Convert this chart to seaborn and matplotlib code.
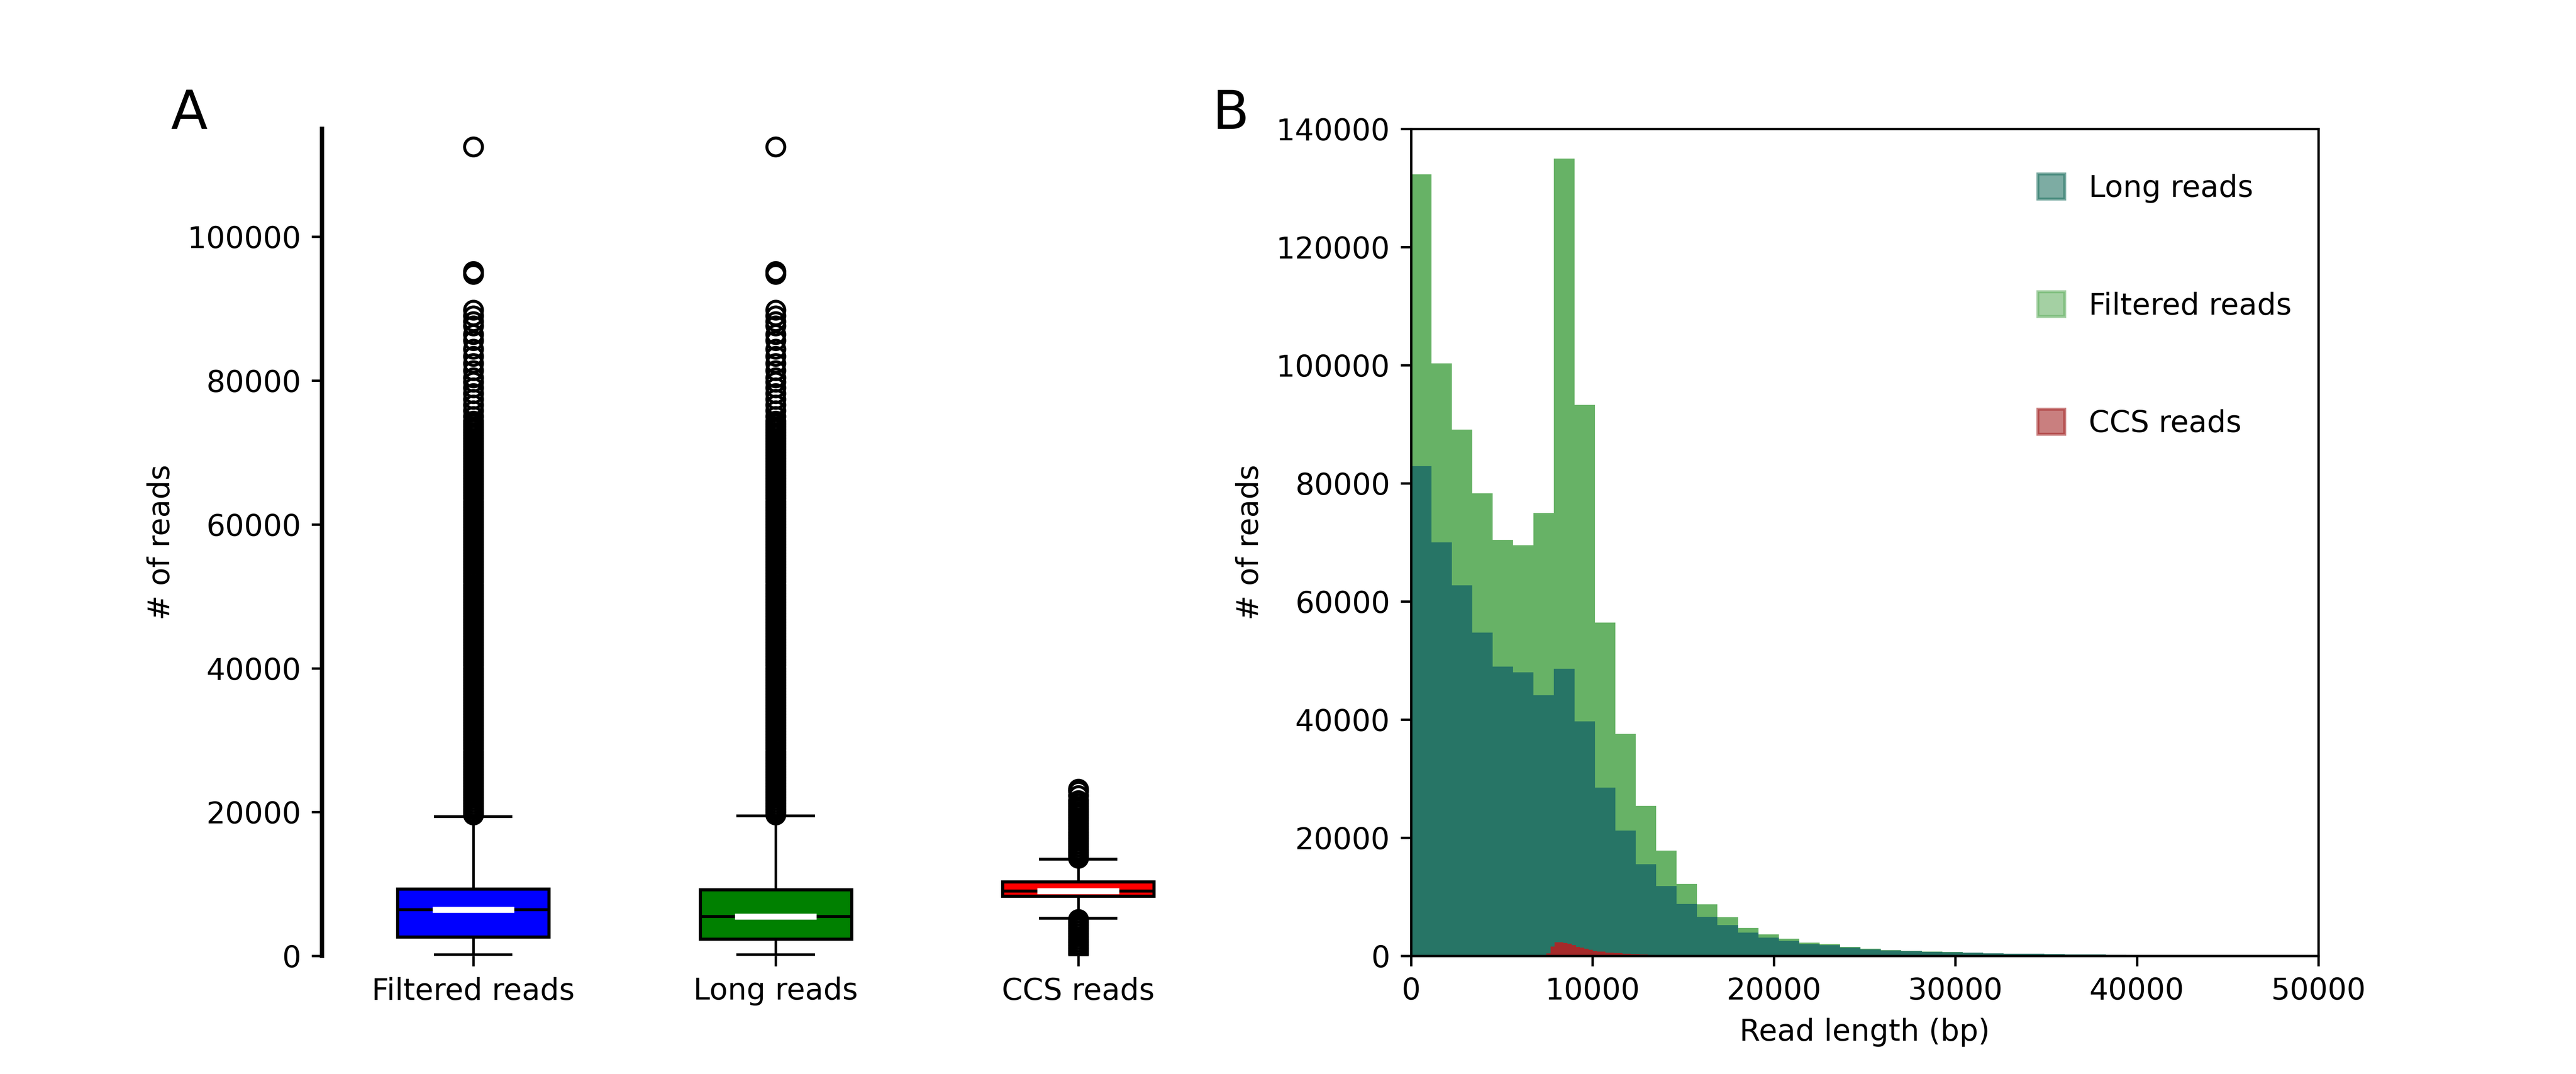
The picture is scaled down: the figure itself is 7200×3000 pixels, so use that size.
import numpy as np
import pandas as pd
import matplotlib
matplotlib.use("Agg")
import matplotlib.pyplot as plt
from matplotlib.patches import Patch
import seaborn as sns

# ---------------- data ----------------
# Panel A: box-plot statistics
box_labels = ["Filtered reads", "Long reads", "CCS reads"]
box_colors = ["#0000ff", "#008000", "#ff0000"]
box_whislo = [150, 150, 5240]
box_q1 = [2630, 2340, 8290]
box_median = [6430, 5480, 9020]
box_q3 = [9320, 9190, 10330]
box_whishi = [19360, 19460, 13420]

filtered_fliers = [
    19600, 20000, 20400, 20800, 21200, 21600, 22000, 22400, 22800, 23200,
    23600, 24000, 24400, 24800, 25200, 25600, 26000, 26400, 26800, 27200,
    27600, 28000, 28400, 28800, 29200, 29600, 30000, 30400, 30800, 31200,
    31600, 32000, 32400, 32800, 33200, 33600, 34000, 34400, 34800, 35200,
    35600, 36000, 36400, 36800, 37200, 37600, 38000, 38400, 38800, 39200,
    39600, 40000, 40400, 40800, 41200, 41600, 42000, 42400, 42800, 43200,
    43600, 44000, 44400, 44800, 45200, 45600, 46000, 46400, 46800, 47200,
    47600, 48000, 48400, 48800, 49200, 49600, 50000, 50400, 50800, 51200,
    51600, 52000, 52400, 52800, 53200, 53600, 54000, 54400, 54800, 55200,
    55600, 56000, 56400, 56800, 57200, 57600, 58000, 58400, 58800, 59200,
    59600, 60000, 60400, 60800, 61200, 61600, 62000, 62400, 62800, 63200,
    63600, 64000, 64400, 64800, 65200, 65600, 66000, 66400, 66800, 67200,
    67600, 68000, 68400, 68800, 69200, 69600, 70000, 70400, 70800, 71200,
    71600, 72000, 72400, 72800, 73200, 73600, 74000, 74400,
    75000, 75800, 76600, 77400, 78200, 79000, 79800, 80400, 81400, 82400,
    83400, 84400, 85600, 86400, 87600, 88200, 89000, 89800,
    94800, 95200, 112500,
]
long_fliers = list(filtered_fliers)
ccs_fliers = [
    300, 700, 1100, 1500, 1900, 2300, 2700, 3100, 3500, 3900, 4300, 4700, 5100,
    13600, 14000, 14400, 14800, 15200, 15600, 16000, 16400, 16800, 17200,
    17600, 18000, 18400, 18800, 19200, 19600, 20000, 20400, 20800, 21200,
    21600, 22300, 22900, 23200,
]
box_fliers = [filtered_fliers, long_fliers, ccs_fliers]

# Panel B: histogram counts
hist_bin_width = 1126
filtered_counts = [
    132300, 100300, 89100, 78300, 70400, 69500, 75000, 135000, 93300, 56400,
    37600, 25400, 17800, 12200, 8730, 6545, 4730, 3640, 2910, 2240,
    2000, 1515, 1210, 970, 850, 730, 640, 550, 430, 370,
    365, 300, 245, 240, 170, 150, 130, 110, 100, 80,
    60, 50, 40, 30,
]
long_counts = [
    82900, 70000, 62700, 54700, 49000, 48000, 44100, 48600, 39700, 28500,
    21200, 15500, 11800, 8790, 6610, 5210, 3940, 3090, 2545, 2000,
    1820, 1390, 1090, 910, 780, 690, 630, 545, 425, 365,
    365, 300, 240, 240, 165, 145, 125, 105, 95, 75,
    55, 45, 35, 25,
]
ccs_bin_width = 233
ccs_first_bin = 32
ccs_counts = [
    400, 1580, 2320, 2320, 2200, 2060, 1820, 1500, 1390, 1210,
    1010, 850, 750, 750, 545, 545, 485, 485, 364, 364,
    283, 283, 240, 240, 180, 160, 140, 120, 100, 90,
    80, 70, 60, 50, 40, 30,
]
hist_labels = ["Long reads", "Filtered reads", "CCS reads"]
col_long = "#277566"
col_filtered = "#67b266"
col_ccs = "#a52a2a"

# ---------------- figure ----------------
plt.rcdefaults()
plt.rcParams["font.family"] = ["DejaVu Sans"]
fig, (ax1, ax2) = plt.subplots(1, 2, figsize=(12, 5), dpi=600)

# ----- Panel A -----
stats = []
for i, lab in enumerate(box_labels):
    stats.append(dict(label=lab, whislo=box_whislo[i], q1=box_q1[i],
                      med=box_median[i], q3=box_q3[i], whishi=box_whishi[i],
                      fliers=box_fliers[i]))
positions = [0, 1, 2]
bp = ax1.bxp(stats, positions=positions, widths=0.5, patch_artist=True,
             showfliers=True,
             boxprops=dict(edgecolor="black", linewidth=1.05),
             medianprops=dict(color="black", linewidth=1.0),
             whiskerprops=dict(color="black", linewidth=0.85),
             capprops=dict(color="black", linewidth=0.95),
             flierprops=dict(marker="o", markerfacecolor="none",
                             markeredgecolor="black", markersize=6,
                             markeredgewidth=1.0))
for patch, c in zip(bp["boxes"], box_colors):
    patch.set_facecolor(c)
ax1.hlines(box_median, [p - 0.135 for p in positions],
           [p + 0.135 for p in positions], colors="white", linewidth=2.0,
           zorder=5)
ax1.set_xlim(-0.5, 2.5)
ax1.set_ylim(0, 115000)
ax1.set_yticks([0, 20000, 40000, 60000, 80000, 100000])
ax1.set_xticks(positions)
ax1.set_xticklabels(box_labels)
for s in ["top", "right", "bottom"]:
    ax1.spines[s].set_visible(False)
ax1.spines["left"].set_linewidth(1.45)
ax1.set_ylabel("# of reads")

# ----- Panel B -----
edges_main = [k * hist_bin_width for k in range(len(filtered_counts) + 1)]
df_main = pd.DataFrame({
    "length": [e + hist_bin_width / 2 for e in edges_main[:-1]],
    "filtered": filtered_counts,
    "long": long_counts,
})
edges_ccs = [(k + ccs_first_bin) * ccs_bin_width for k in range(len(ccs_counts) + 1)]
df_ccs = pd.DataFrame({
    "length": [e + ccs_bin_width / 2 for e in edges_ccs[:-1]],
    "ccs": ccs_counts,
})

sns.histplot(data=df_main, x="length", weights="filtered", bins=edges_main,
             element="step", fill=True, color=col_filtered, alpha=1,
             linewidth=0, ax=ax2)
sns.histplot(data=df_main, x="length", weights="long", bins=edges_main,
             element="step", fill=True, color=col_long, alpha=1,
             linewidth=0, ax=ax2)
sns.histplot(data=df_ccs, x="length", weights="ccs", bins=edges_ccs,
             element="step", fill=True, color=col_ccs, alpha=1,
             linewidth=0, ax=ax2)
ax2.set_xlim(0, 50000)
ax2.set_ylim(0, 140000)
ax2.set_xlabel("Read length (bp)")
ax2.set_ylabel("# of reads")

handles = [Patch(facecolor=c, edgecolor=c, alpha=0.6, linewidth=1.0)
           for c in [col_long, col_filtered, col_ccs]]
ax2.legend(handles, hist_labels, loc="upper right", frameon=False,
           bbox_to_anchor=(1.0, 0.978),
           handlelength=0.9, handleheight=0.9, labelspacing=2.97,
           handletextpad=0.8)

fig.text(0.0664, 0.88, "A", fontsize=18, ha="left", va="baseline")
fig.text(0.4706, 0.88, "B", fontsize=18, ha="left", va="baseline")

fig.savefig("out.png", dpi=600)
